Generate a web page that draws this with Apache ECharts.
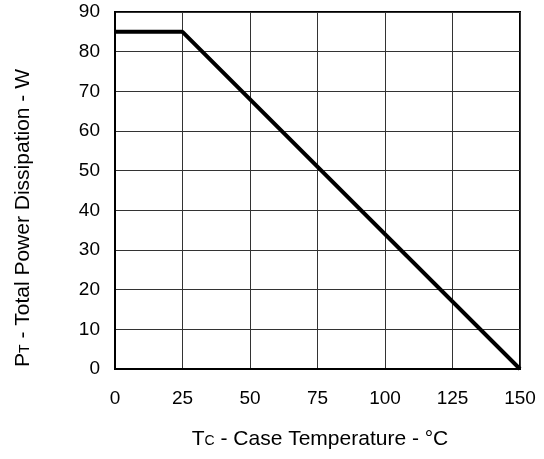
<!DOCTYPE html>
<html><head><meta charset="utf-8">
<script src="https://cdn.jsdelivr.net/npm/echarts@6/dist/echarts.min.js"></script>
<style>html,body{margin:0;padding:0;background:#fff}#c{width:544px;height:459px}</style>
</head><body><div id="c"></div>
<script>
const tempC = [0, 25, 150];
const powerW = [85, 85, 0];
const xTicks = [0, 25, 50, 75, 100, 125, 150];
const yTicks = [0, 10, 20, 30, 40, 50, 60, 70, 80, 90];
const xTitle = ['T', 'C', ' - Case Temperature - °C'];
const yTitle = ['P', 'T', ' - Total Power Dissipation - W'];

const chart = echarts.init(document.getElementById('c'), null, {renderer: 'canvas'});
const font = '"Liberation Sans", Arial, sans-serif';
const rich = {
  a: {fontSize: 21, fontFamily: font, fill: '#000', color: '#000', verticalAlign: 'bottom'},
  s: {fontSize: 14, fontFamily: font, fill: '#000', color: '#000', verticalAlign: 'bottom', padding: [0,0,1,0]}
};
chart.setOption({
  animation: false,
  backgroundColor: '#fff',
  grid: {left: 115, right: 24, top: 12, bottom: 90, show: true, borderColor: '#000', borderWidth: 2, backgroundColor: 'transparent'},
  xAxis: {
    type: 'value', min: xTicks[0], max: xTicks[xTicks.length-1], interval: 25,
    axisLine: {show: true, lineStyle: {color: '#000', width: 2}},
    axisTick: {show: false},
    splitLine: {show: true, lineStyle: {color: '#333', width: 1}},
    axisLabel: {color: '#000', fontSize: 19, fontFamily: font, margin: 20}
  },
  yAxis: {
    type: 'value', min: yTicks[0], max: yTicks[yTicks.length-1], interval: 10,
    axisLine: {show: true, lineStyle: {color: '#000', width: 2}},
    axisTick: {show: false},
    splitLine: {show: true, lineStyle: {color: '#333', width: 1}},
    axisLabel: {color: '#000', fontSize: 19, fontFamily: font, margin: 15}
  },
  graphic: [
    {type: 'text', x: 320, y: 439, style: {
      text: '{a|' + xTitle[0] + '}{s|' + xTitle[1] + '}{a|' + xTitle[2] + '}',
      rich: rich, align: 'center', verticalAlign: 'middle'}},
    {type: 'text', x: 23, y: 218, rotation: Math.PI / 2, style: {
      text: '{a|' + yTitle[0] + '}{s|' + yTitle[1] + '}{a|' + yTitle[2] + '}',
      rich: rich, align: 'center', verticalAlign: 'middle'}}
  ],
  series: [{
    type: 'line',
    data: tempC.map((t, i) => [t, powerW[i]]),
    symbol: 'none',
    lineStyle: {color: '#000', width: 4},
    z: 5
  }]
});
</script></body></html>
